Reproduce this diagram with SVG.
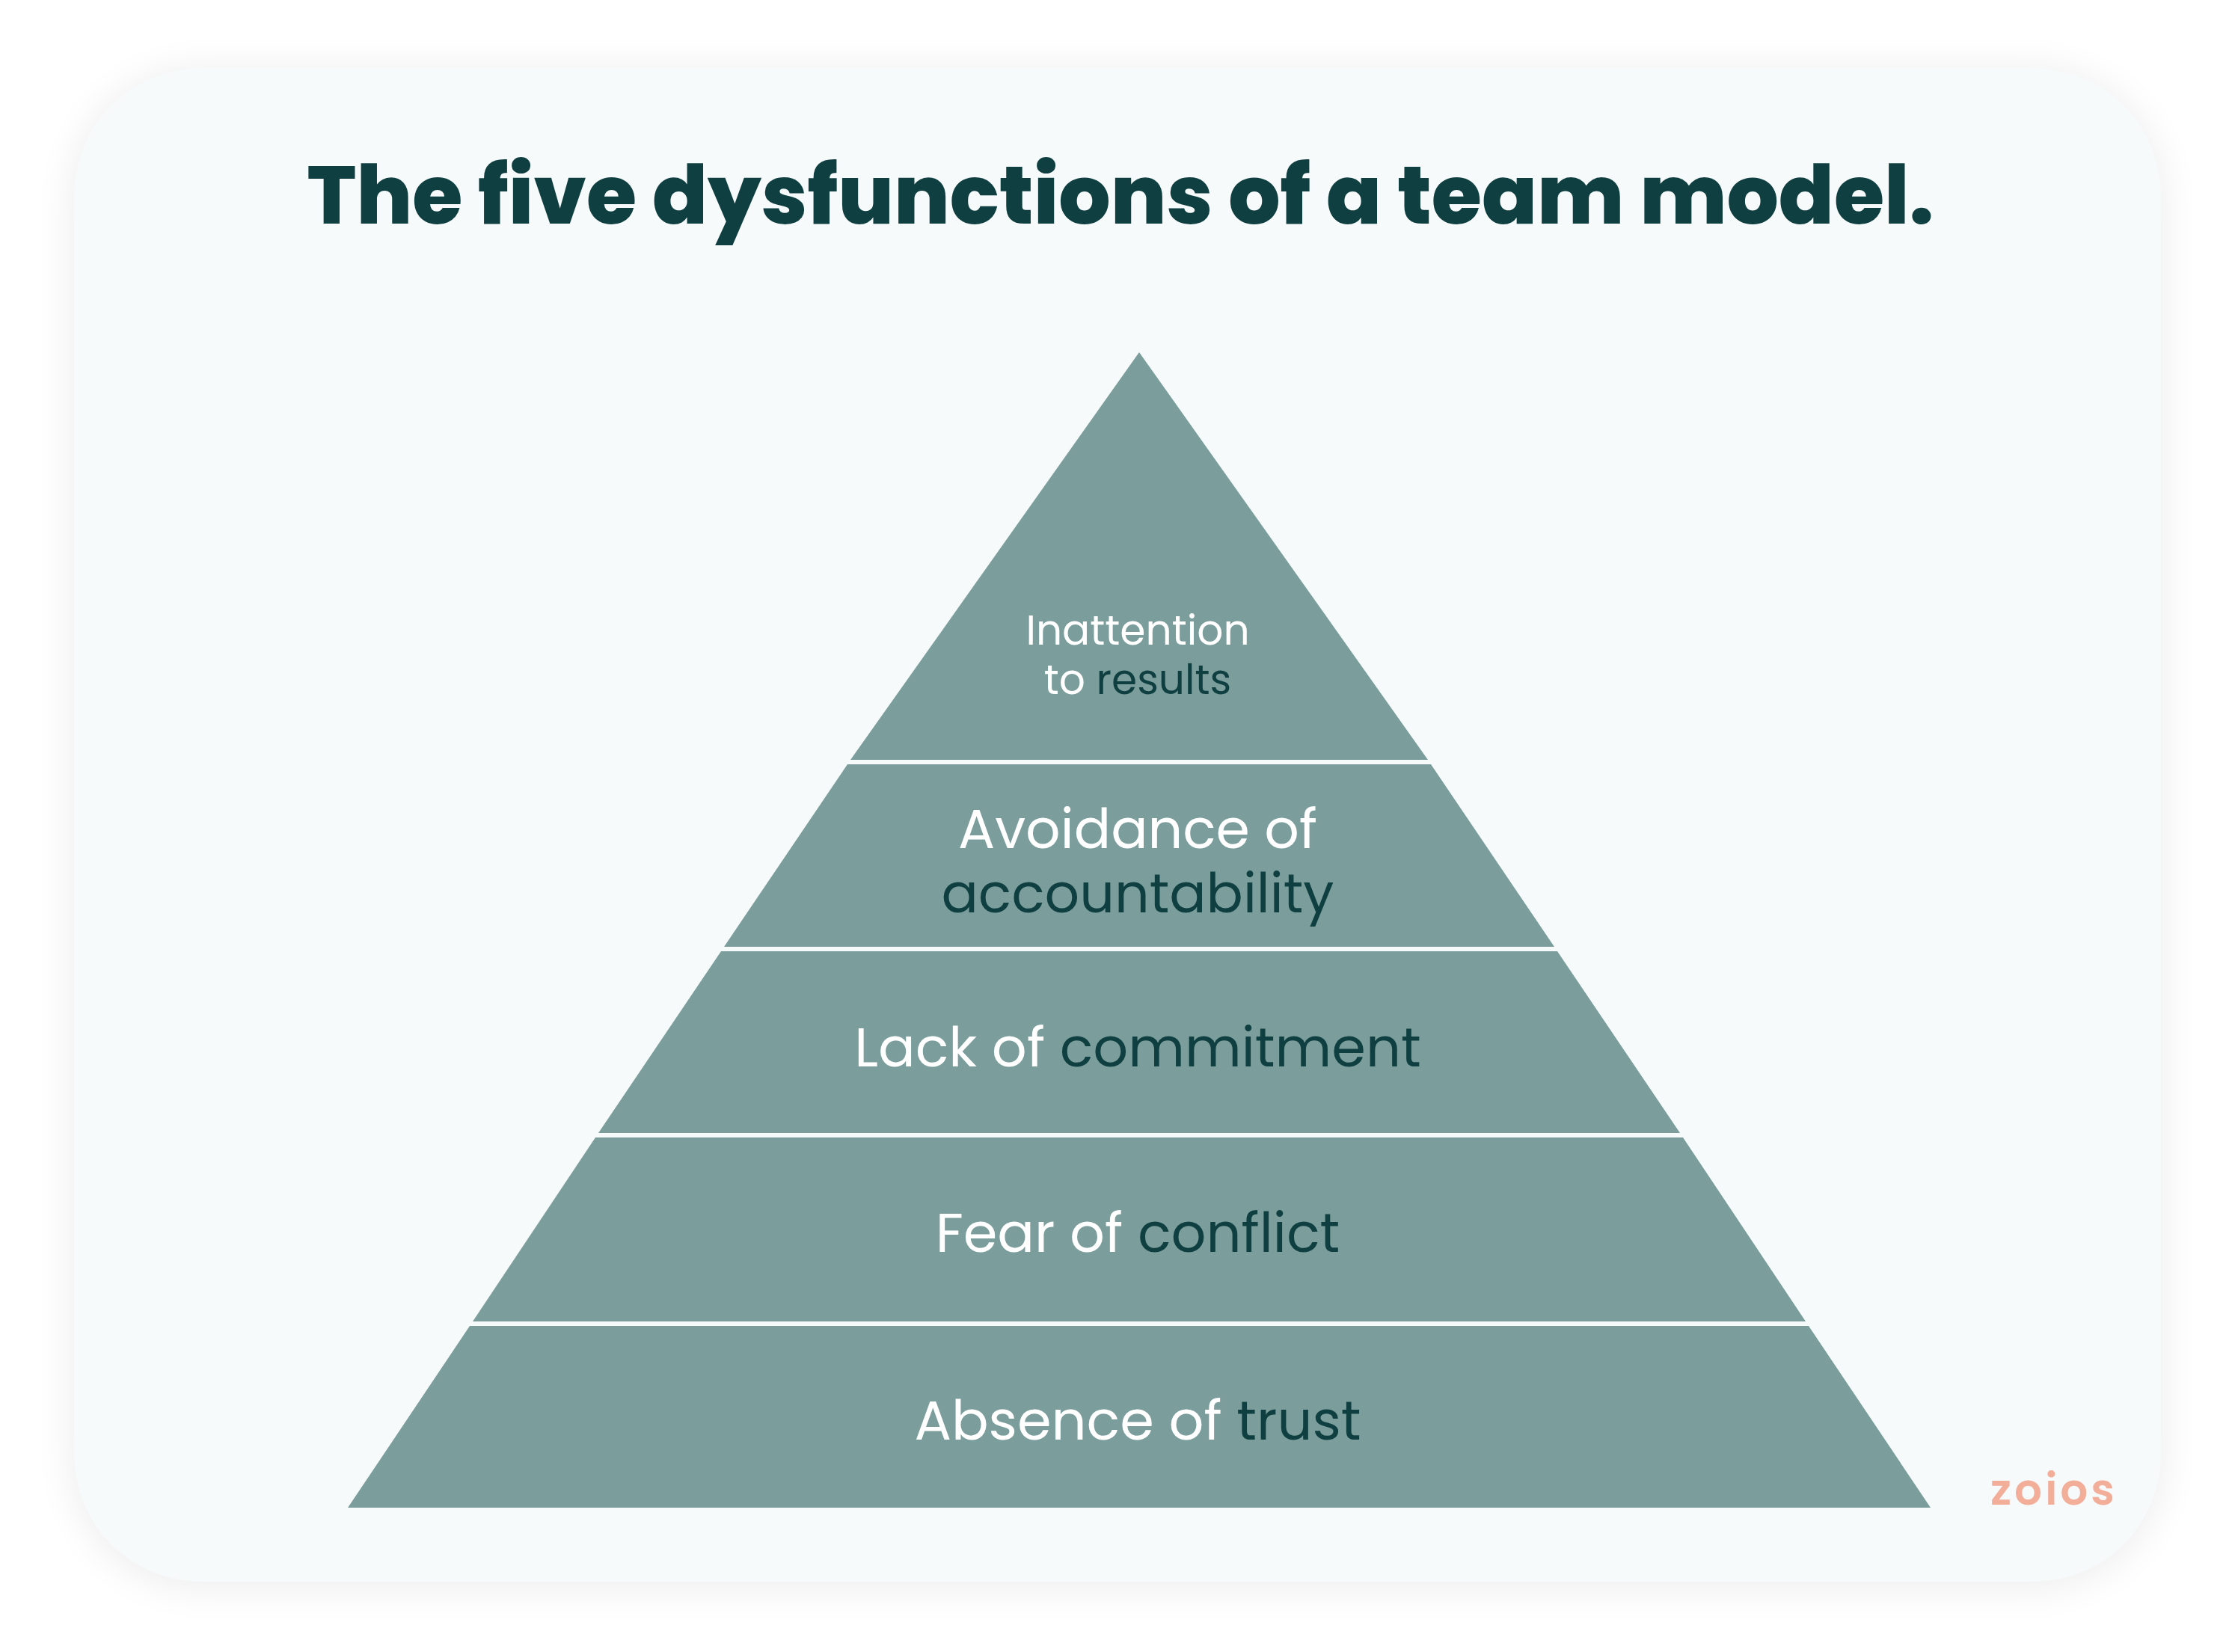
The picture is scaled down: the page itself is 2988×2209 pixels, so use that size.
<svg xmlns="http://www.w3.org/2000/svg" width="2988" height="2209" viewBox="0 0 2988 2209">
<defs>
<filter id="sh" x="-10%" y="-10%" width="120%" height="120%"><feGaussianBlur stdDeviation="28"/></filter>
<style>
.lvl{fill:#7b9e9c}
.t{font-family:Poppins,"Noto Sans","Open Sans",sans-serif;text-anchor:middle;fill:#ffffff}
.d{fill:#0f3f40}
</style>
</defs>
<rect width="2988" height="2209" fill="#ffffff"/>
<rect x="99" y="96" width="2790" height="2024" rx="170" fill="#000" opacity="0.08" filter="url(#sh)"/>
<rect x="99" y="91" width="2790" height="2024" rx="170" fill="#f7fafb"/>
<text x="1498" y="299" font-family="Poppins,'Noto Sans',Inter,sans-serif" font-weight="800" font-size="109" text-anchor="middle" fill="#0f3f40">The five dysfunctions of a team model.</text>
<g id="level5"><polygon class="lvl" points="1523,471 1909,1016 1137,1016"/>
<text class="t" x="1521" y="862" font-size="55">Inattention</text>
<text class="t" x="1521" y="928" font-size="55">to <tspan class="d">results</tspan></text></g>
<g id="level4"><polygon class="lvl" points="1133,1022 1913,1022 2078,1266 968,1266"/>
<text class="t" x="1521" y="1134" font-size="73">Avoidance of</text>
<text class="t d" x="1521" y="1220" font-size="73">accountability</text></g>
<g id="level3"><polygon class="lvl" points="964,1272 2082,1272 2246,1515 800,1515"/>
<text class="t" x="1521" y="1426" font-size="73.5">Lack of <tspan class="d">commitment</tspan></text></g>
<g id="level2"><polygon class="lvl" points="796,1521 2250,1521 2414,1767 632,1767"/>
<text class="t" x="1521" y="1674" font-size="73.5">Fear of <tspan class="d">conflict</tspan></text></g>
<g id="level1"><polygon class="lvl" points="628,1773 2418,1773 2581,2016 465,2016"/>
<text class="t" x="1521" y="1925" font-size="73.5">Absence of <tspan class="d">trust</tspan></text></g>
<g id="connectors"/>
<text x="2746" y="2012" font-family="Poppins,'Noto Sans',sans-serif" font-weight="600" font-size="58" letter-spacing="4" text-anchor="middle" fill="#f2ae98">zoios</text>
</svg>
